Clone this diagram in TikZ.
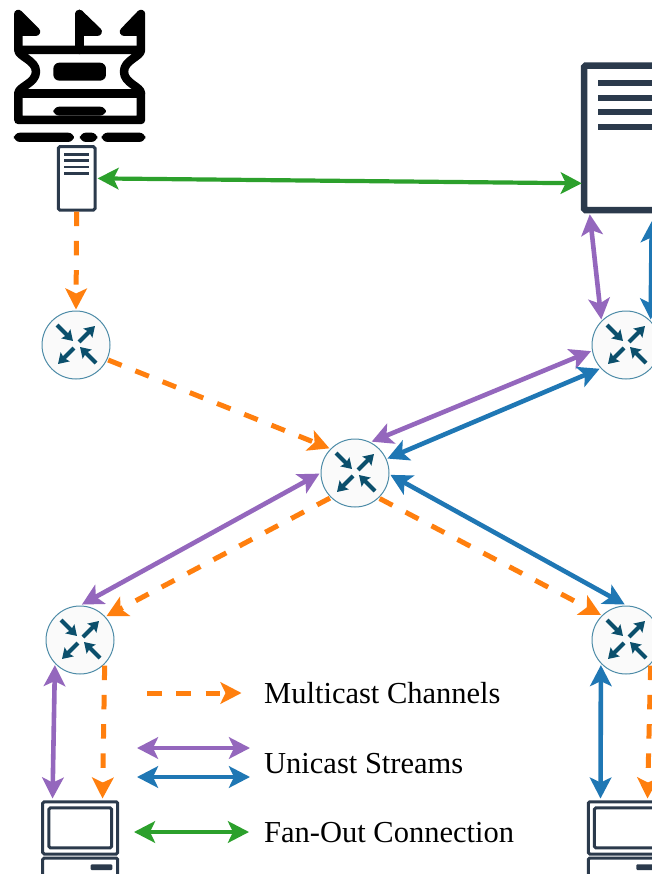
\documentclass[tikz,border=0pt]{standalone}
\usepackage{fontspec}
\setmainfont{Liberation Serif}
\usetikzlibrary{arrows.meta,calc}
\definecolor{morange}{HTML}{FF7F0E}
\definecolor{mpurple}{HTML}{9467BD}
\definecolor{mblue}{HTML}{1F77B4}
\definecolor{mgreen}{HTML}{2CA02C}
\definecolor{slate}{HTML}{2B3A4C}
\definecolor{teal}{HTML}{0B4F6C}
\definecolor{ringc}{HTML}{4E8CA8}
\tikzset{
  x=1pt,y=-1pt,
  tipboth/.style={{Stealth[length=21pt,width=21.5pt,inset=5pt]}-{Stealth[length=21pt,width=21.5pt,inset=5pt]}},
  tipone/.style={-{Stealth[length=21pt,width=21.5pt,inset=5pt]}},
  conn/.style={line width=4.6pt,tipboth},
  purplelink/.style={conn,draw=mpurple},
  bluelink/.style={conn,draw=mblue},
  greenlink/.style={conn,draw=mgreen,line width=4.2pt},
  multilink/.style={line width=5pt,draw=morange,tipone,dash pattern=on 14.5pt off 14.8pt},
  iconarrow/.style={line width=4pt,draw=teal,-{Stealth[length=10pt,width=12.5pt,inset=1.5pt]}},
  router/.style={circle,draw=ringc,line width=1pt,fill=black!2,minimum size=68pt,inner sep=0pt,outer sep=1.5pt,
    path picture={
      \draw[iconarrow] ($(path picture bounding box.center)+(-19,-20)$) -- ++(16,16);
      \draw[iconarrow] ($(path picture bounding box.center)+(3,-3)$) -- ++(16,-16);
      \draw[iconarrow] ($(path picture bounding box.center)+(-2,3)$) -- ++(-16,16);
      \draw[iconarrow] ($(path picture bounding box.center)+(20,18)$) -- ++(-16,-16);
    }},
  screenbox/.style={draw=slate,fill=white,rounded corners=1.5pt,inner sep=0pt},
  bar/.style={fill=slate,draw=none},
  castle/.style={draw=black,line width=8.5pt,line join=round,line cap=round},
  label/.style={anchor=west,font=\fontsize{30.5}{32}\selectfont,text=black,inner sep=0pt},
}
\begin{document}
\begin{tikzpicture}
\useasboundingbox (0,0) rectangle (652,874);
\clip (0,0) rectangle (652,874);
\fill[white] (0,0) rectangle (652,874);

% castle icon
\begin{scope}[x=0.3333pt,y=-0.3333pt]
  \draw[castle] (55,150) .. controls (55,170) and (108,180) .. (108,215) .. controls (108,250) and (55,260) .. (55,280) -- (55,360) -- (423,360) -- (423,280) .. controls (423,260) and (372,250) .. (372,215) .. controls (372,180) and (423,170) .. (423,150) -- cycle;
  \draw[castle] (55,280) -- (423,280);
  \draw[castle] (238,150) -- (238,42);
  \draw[castle,fill=black] (55,150) -- (55,42) -- (108,95) -- (60,95);
  \draw[castle,fill=black] (238,42) -- (293,95) -- (245,95);
  \draw[castle,fill=black] (423,150) -- (423,42) -- (372,95) -- (418,95);
  \fill[black,rounded corners=6pt] (160,188) rectangle (318,242);
  \fill[black,rounded corners=6pt] (160,347) -- (160,320) -- (318,320) -- (318,347) -- cycle;
  \fill[black,rounded corners=6pt] (42,398) rectangle (222,426);
  \fill[black,rounded corners=6pt] (240,398) rectangle (292,426);
  \fill[black,rounded corners=6pt] (305,398) rectangle (436,426);
\end{scope}

% servers
\node[screenbox,line width=3pt,minimum width=36.7pt,minimum height=63.3pt] (s1) at (76.7,178.4) {};
\foreach \yy in {154.3,160.7,167,173.3} \fill[bar] (64,\yy-1.3) rectangle (88.7,\yy+1.3);
\node[screenbox,line width=6.5pt,minimum width=84pt,minimum height=144.3pt] (s2) at (626,137.9) {};
\foreach \yy in {83.3,97.7,112,126.7} \fill[bar] (598,\yy-3) rectangle (654,\yy+3);

% routers
\node[router] (r1) at (76,345) {};
\node[router] (r2) at (626,345) {};
\node[router] (c) at (355,473) {};
\node[router] (r3) at (80,640) {};
\node[router] (r4) at (626,640) {};

% clients
\node[screenbox,line width=3pt,minimum width=75pt,minimum height=52.3pt] (p1) at (80.2,827.9) {};
\node[screenbox,line width=3pt,minimum width=62.7pt,minimum height=40pt] at (p1.center) {};
\node[screenbox,line width=3pt,minimum width=75pt,minimum height=40pt] (b1) at (80.2,878) {};
\fill[bar,rounded corners=1pt] (90.7,864.3) rectangle (112.3,870);
\node[screenbox,line width=3pt,minimum width=75pt,minimum height=52.3pt] (p2) at (625.8,827.9) {};
\node[screenbox,line width=3pt,minimum width=62.7pt,minimum height=40pt] at (p2.center) {};
\node[screenbox,line width=3pt,minimum width=75pt,minimum height=40pt] (b2) at (625.8,878) {};
\fill[bar,rounded corners=1pt] (636.3,864.3) rectangle (657.9,870);

% connector ends off the servers and clients
\coordinate (s1g) at ([shift={(1,0)}]s1.east);
\coordinate (s2g) at ($(s2.south west)+(1,-30)$);
\coordinate (s2p) at ($(s2.south west)+(9,1)$);
\coordinate (s2b) at ($(s2.south west)+(71,8)$);
\coordinate (p1p) at ($(p1.north west)+(11.3,-1.7)$);
\coordinate (p1o) at ($(p1.north west)+(61.3,-1.7)$);
\coordinate (p2b) at ($(p2.north west)+(13.7,-1.7)$);
\coordinate (p2o) at ($(p2.north west)+(60.7,-1.7)$);

% links
\draw[greenlink] (s1g) -- (s2g);
\draw[multilink] (s1.south) -- (r1.90);
\draw[multilink] (r1.-25) -- (c.136);
\draw[purplelink] (s2p) -- (r2.134);
\draw[bluelink] (s2b) -- (r2.46);
\draw[purplelink] (r2.190) -- (c.62);
\draw[bluelink] (r2.222) -- (c.24);
\draw[purplelink] (c.181) -- (r3.87);
\draw[multilink] (c.225) -- (r3.42);
\draw[bluelink] (c.-3) -- (r4.92);
\draw[multilink] (c.-46) -- (r4.135);
\draw[purplelink] (r3.225) -- (p1p);
\draw[multilink] (r3.-46) -- (p1o);
\draw[bluelink] (r4.225) -- (p2b);
\draw[multilink] (r4.-46) -- (p2o);

% legend
\coordinate (l1a) at (147,693); \coordinate (l1b) at (241.5,693);
\coordinate (l2a) at (137,748); \coordinate (l2b) at (250,748);
\coordinate (l3a) at (137,777); \coordinate (l3b) at (250,777);
\coordinate (l4a) at (134,832); \coordinate (l4b) at (249,832);
\draw[multilink] (l1a) -- (l1b);
\draw[purplelink] (l2a) -- (l2b);
\draw[bluelink] (l3a) -- (l3b);
\draw[greenlink] (l4a) -- (l4b);
\node[label] (t1) at (264,693.5) {Multicast Channels};
\node[label] (t2) at (264,763.5) {Unicast Streams};
\node[label] (t3) at (264,832.5) {Fan-Out Connection};
\end{tikzpicture}
\end{document}
